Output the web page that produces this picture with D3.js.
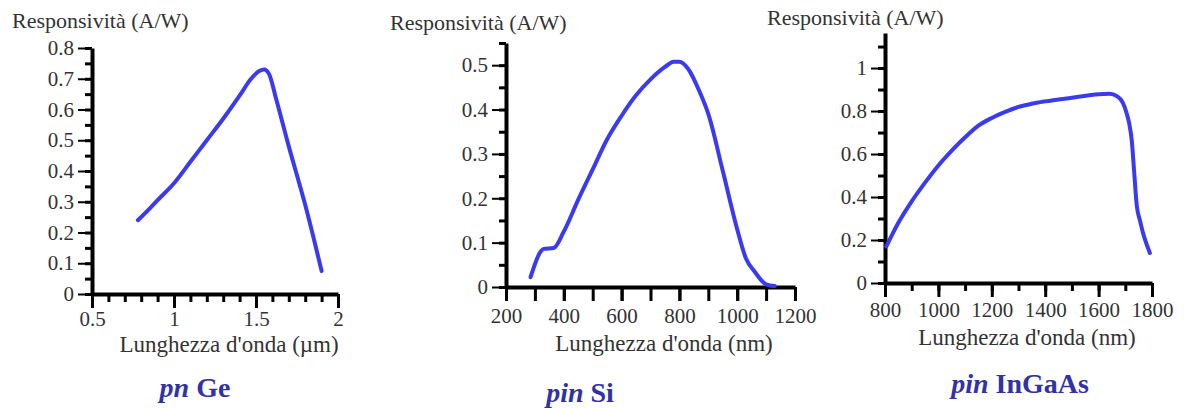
<!DOCTYPE html>
<html>
<head>
<meta charset="utf-8">
<script src="https://cdn.jsdelivr.net/npm/d3@7"></script>
<style>
  body { margin: 0; background: #fff; }
  svg { display: block; }
  text { font-family: "Liberation Serif", "DejaVu Serif", serif; fill: #333; }
  .axis path, .axis line { stroke: #000; }
  .title { fill: #3232a8; font-weight: bold; }
</style>
</head>
<body>
<svg width="1184" height="410"></svg>
<script>
// pn Ge responsivity (A/W) vs wavelength (um)
var geWave = [0.78, 0.85, 0.9, 1.0, 1.1, 1.2, 1.3, 1.4, 1.47, 1.52, 1.55, 1.58, 1.62, 1.7, 1.8, 1.9];
var geResp = [0.24, 0.277, 0.305, 0.36, 0.43, 0.50, 0.57, 0.645, 0.70, 0.725, 0.73, 0.715, 0.64, 0.48, 0.29, 0.075];

// pin Si responsivity vs wavelength (nm)
var siWave = [285, 320, 330, 365, 400, 450, 500, 550, 600, 650, 700, 750, 780, 800, 830, 870, 900, 950, 1000, 1030, 1060, 1100, 1130];
var siResp = [0.022, 0.080, 0.086, 0.088, 0.125, 0.197, 0.265, 0.333, 0.386, 0.432, 0.468, 0.496, 0.508, 0.508, 0.492, 0.44, 0.39, 0.262, 0.13, 0.065, 0.035, 0.006, 0.002];

// pin InGaAs responsivity vs wavelength (nm)
var ingaasWave = [805, 850, 900, 950, 1000, 1050, 1100, 1150, 1200, 1250, 1300, 1350, 1400, 1500, 1600, 1640, 1670, 1690, 1705, 1715, 1724, 1733, 1743, 1755, 1767, 1792];
var ingaasResp = [0.17, 0.28, 0.38, 0.467, 0.547, 0.616, 0.678, 0.732, 0.768, 0.796, 0.819, 0.834, 0.845, 0.862, 0.878, 0.88, 0.868, 0.84, 0.79, 0.74, 0.665, 0.52, 0.36, 0.29, 0.23, 0.14];

// tick values
var geXMajor = [0.5, 1, 1.5, 2];
var siXMajor = [200, 400, 600, 800, 1000, 1200];
var ingaasXMajor = [800, 1000, 1200, 1400, 1600, 1800];

var svg = d3.select("svg");

function drawPanel(p) {
    var x = d3.scaleLinear().domain(p.xDomain).range(p.xRange);
    var y = d3.scaleLinear().domain(p.yDomain).range(p.yRange);

    var g = svg.append("g");

    // minor ticks (no labels)
    g.append("g")
        .attr("class", "axis")
        .attr("transform", "translate(" + p.xRange[0] + ",0)")
        .call(d3.axisLeft(y).tickValues(p.yMinor).tickSize(7).tickSizeOuter(0).tickFormat(""))
        .call(function (a) { a.select(".domain").attr("stroke-width", 4); a.selectAll("line").attr("stroke-width", 3); });

    g.append("g")
        .attr("class", "axis")
        .attr("transform", "translate(0," + p.yRange[0] + ")")
        .call(d3.axisBottom(x).tickValues(p.xMinor).tickSize(p.xMinorSize).tickSizeOuter(0).tickFormat(""))
        .call(function (a) { a.select(".domain").attr("stroke-width", 4); a.selectAll("line").attr("stroke-width", 3); });

    // major ticks with labels
    var ya = g.append("g")
        .attr("class", "axis")
        .attr("transform", "translate(" + p.xRange[0] + ",0)")
        .call(d3.axisLeft(y).tickValues(p.yMajor).tickSize(14).tickPadding(4).tickSizeOuter(0).tickFormat(d3.format("")));
    ya.attr("font-family", null).attr("font-size", null);
    ya.select(".domain").remove();
    ya.selectAll("line").attr("stroke-width", 2);
    ya.selectAll("text").attr("font-size", 21);

    var xa = g.append("g")
        .attr("class", "axis")
        .attr("transform", "translate(0," + p.yRange[0] + ")")
        .call(d3.axisBottom(x).tickValues(p.xMajor).tickSize(14).tickPadding(p.xPad).tickSizeOuter(0).tickFormat(d3.format("")));
    xa.attr("font-family", null).attr("font-size", null);
    xa.select(".domain").remove();
    xa.selectAll("line").attr("stroke-width", 3);
    xa.selectAll("text").attr("font-size", 21);

    // curve
    var pts = d3.zip(p.wave, p.resp);
    g.append("path")
        .datum(pts)
        .attr("fill", "none")
        .attr("stroke", "#3a3af0")
        .attr("stroke-width", 4)
        .attr("stroke-linejoin", "round")
        .attr("stroke-linecap", "round")
        .attr("d", d3.line()
            .curve(d3.curveMonotoneX)
            .x(function (d) { return x(d[0]); })
            .y(function (d) { return y(d[1]); }));

    // axis titles
    g.append("text")
        .attr("x", p.yLabelPos[0])
        .attr("y", p.yLabelPos[1])
        .attr("font-size", 22)
        .text("Responsività (A/W)");

    g.append("text")
        .attr("x", p.xLabelPos[0])
        .attr("y", p.xLabelPos[1])
        .attr("text-anchor", "middle")
        .attr("font-size", 23)
        .text(p.xLabel);

    // panel title
    var t = g.append("text")
        .attr("class", "title")
        .attr("x", p.titlePos[0])
        .attr("y", p.titlePos[1])
        .attr("text-anchor", "middle")
        .attr("font-size", 28);
    t.append("tspan").attr("font-style", "italic").text(p.titleA);
    t.append("tspan").text(" " + p.titleB);
}

drawPanel({
    wave: geWave, resp: geResp,
    xDomain: [0.5, 2], xRange: [92, 338],
    yDomain: [0, 0.8], yRange: [294, 48],
    xMajor: geXMajor, xMinor: d3.range(5, 21).map(function (d) { return d / 10; }), xMinorSize: 8, xPad: 3,
    yMajor: d3.range(0, 9).map(function (d) { return d / 10; }),
    yMinor: d3.range(0, 17).map(function (d) { return d / 20; }),
    xLabel: "Lunghezza d'onda (µm)", xLabelPos: [229, 352],
    yLabelPos: [12, 28],
    titleA: "pn", titleB: "Ge", titlePos: [195, 397]
});

drawPanel({
    wave: siWave, resp: siResp,
    xDomain: [200, 1200], xRange: [506, 795],
    yDomain: [0, 0.55], yRange: [287, 43],
    xMajor: siXMajor, xMinor: d3.range(200, 1201, 100), xMinorSize: 14, xPad: 7,
    yMajor: d3.range(0, 6).map(function (d) { return d / 10; }),
    yMinor: d3.range(0, 12).map(function (d) { return d / 20; }),
    xLabel: "Lunghezza d'onda (nm)", xLabelPos: [664, 351],
    yLabelPos: [390, 30],
    titleA: "pin", titleB: "Si", titlePos: [580, 402]
});

drawPanel({
    wave: ingaasWave, resp: ingaasResp,
    xDomain: [800, 1800], xRange: [885, 1152],
    yDomain: [0, 1.163], yRange: [283, 33],
    xMajor: ingaasXMajor, xMinor: d3.range(800, 1801, 100), xMinorSize: 8, xPad: 5,
    yMajor: [0, 0.2, 0.4, 0.6, 0.8, 1],
    yMinor: d3.range(0, 12).map(function (d) { return d / 10; }),
    xLabel: "Lunghezza d'onda (nm)", xLabelPos: [1027, 345],
    yLabelPos: [767, 25],
    titleA: "pin", titleB: "InGaAs", titlePos: [1020, 393]
});
</script>
</body>
</html>
